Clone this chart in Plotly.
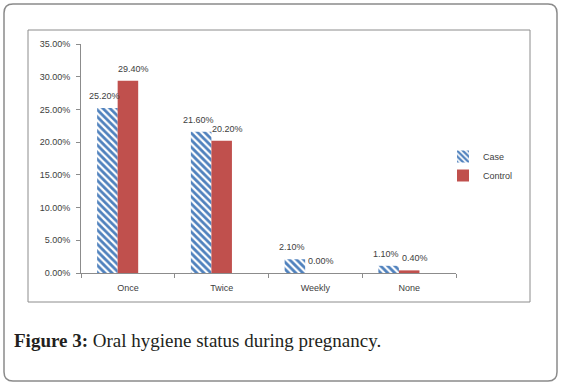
import plotly.graph_objects as go

categories = ["Once", "Twice", "Weekly", "None"]
case_values = [0.252, 0.216, 0.021, 0.011]
control_values = [0.294, 0.202, 0.000, 0.004]
case_labels = ["25.20%", "21.60%", "2.10%", "1.10%"]
control_labels = ["29.40%", "20.20%", "0.00%", "0.40%"]
y_ticks = [0, 0.05, 0.10, 0.15, 0.20, 0.25, 0.30, 0.35]

W, H = 561, 385
L, R, T, B = 81, 456, 44, 273  # plot area in pixels


def px(x):
    return (x - L) / (R - L)


def py(y):
    return (B - y) / (B - T)


lab_font = dict(family="Liberation Sans, Arial, sans-serif", size=9, color="#404040")

# bar geometry (category slot = 1 unit); group laid out as in the source (3 slots)
BAR_W = 0.219
CASE_OFF = -0.328
CTRL_OFF = CASE_OFF + BAR_W

fig = go.Figure()
fig.add_trace(go.Bar(
    name="Case", x=categories, y=case_values,
    width=BAR_W, offset=CASE_OFF,
    marker=dict(color="white", line=dict(width=0),
                pattern=dict(shape="\\", fgcolor="#4F81BD", fgopacity=1,
                             size=5, solidity=0.55, fillmode="overlay")),
))
fig.add_trace(go.Bar(
    name="Control", x=categories, y=control_values,
    width=BAR_W, offset=CTRL_OFF,
    marker=dict(color="#C0504D", line=dict(width=0)),
))

# data labels placed through the axes
bar_px = (R - L) / len(categories)
for cat, v, t in zip(categories, case_values, case_labels):
    fig.add_annotation(x=cat, y=v, text=t, showarrow=False, yanchor="bottom",
                       xshift=(CASE_OFF + BAR_W / 2) * bar_px - 3, yshift=5,
                       font=lab_font)
for cat, v, t in zip(categories, control_values, control_labels):
    fig.add_annotation(x=cat, y=v, text=t, showarrow=False, yanchor="bottom",
                       xshift=(CTRL_OFF + BAR_W / 2) * bar_px + 6, yshift=5,
                       font=lab_font)

# outer rounded frame
x0, y0, x1, y1, r = 4, 4, 557, 381, 9
path = (f"M {px(x0 + r)},{py(y0)} L {px(x1 - r)},{py(y0)} "
        f"Q {px(x1)},{py(y0)} {px(x1)},{py(y0 + r)} "
        f"L {px(x1)},{py(y1 - r)} Q {px(x1)},{py(y1)} {px(x1 - r)},{py(y1)} "
        f"L {px(x0 + r)},{py(y1)} Q {px(x0)},{py(y1)} {px(x0)},{py(y1 - r)} "
        f"L {px(x0)},{py(y0 + r)} Q {px(x0)},{py(y0)} {px(x0 + r)},{py(y0)} Z")
fig.add_shape(type="path", path=path, xref="paper", yref="paper",
              line=dict(color="#8a8a8a", width=1.5), layer="below")
# inner chart box
fig.add_shape(type="rect", xref="paper", yref="paper",
              x0=px(28), x1=px(530), y0=py(30), y1=py(302),
              line=dict(color="#8c8c8c", width=1), layer="below")

fig.add_annotation(
    text="<b>Figure 3:</b> Oral hygiene status during pregnancy.",
    xref="paper", yref="paper", x=px(12), y=py(340),
    xanchor="left", yanchor="middle", showarrow=False,
    font=dict(family="Liberation Serif, Times New Roman, serif", size=19, color="#231f20"),
)

fig.update_layout(
    width=W, height=H,
    margin=dict(l=L, r=W - R, t=T, b=H - B, pad=0),
    paper_bgcolor="white", plot_bgcolor="white",
    barmode="overlay",
    showlegend=True,
    legend=dict(x=px(443), y=py(142), xanchor="left", yanchor="top",
                font=dict(family="Liberation Sans, Arial, sans-serif", size=9, color="#404040"),
                itemwidth=30, bgcolor="rgba(0,0,0,0)"),
    xaxis=dict(showline=True, linecolor="#8c8c8c", linewidth=1,
               ticks="outside", tickson="boundaries", ticklen=4, tickcolor="#8c8c8c",
               ticklabelstandoff=6,
               showgrid=False, tickfont=lab_font),
    yaxis=dict(range=[0, 0.35], tickvals=y_ticks, tickformat=".2%",
               showline=True, linecolor="#8c8c8c", linewidth=1,
               ticks="outside", ticklen=4, tickcolor="#8c8c8c",
               ticklabelstandoff=4,
               showgrid=False, zeroline=False, tickfont=lab_font),
)

fig.write_html("out.html", config={"displayModeBar": False},
               post_script="document.body.style.margin='0';document.body.style.overflow='hidden';")
